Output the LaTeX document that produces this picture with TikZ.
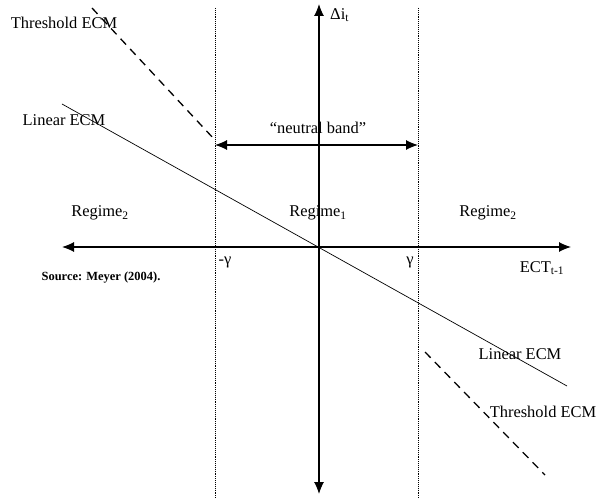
\documentclass[tikz,border=0pt]{standalone}
\usepackage{fontspec}
\setmainfont{Liberation Serif}
\usetikzlibrary{arrows.meta}
\tikzset{
  axis/.style={line width=1.1bp,{Latex[length=12bp,width=10bp]}-{Latex[length=12bp,width=10bp]}},
  band/.style={densely dotted,line width=0.9bp},
  ecm/.style={line width=0.7bp},
  tecm/.style={line width=1.3bp,dash pattern=on 8bp off 6bp},
  lbl/.style={font=\fontsize{16.5}{19}\selectfont,inner sep=1bp}
}
\begin{document}
\begin{tikzpicture}[x=1bp,y=-1bp]
\useasboundingbox (0,0) rectangle (605,499);
\coordinate (o) at (319,247);
\coordinate (xl) at (62,247);
\coordinate (xr) at (571,247);
\coordinate (yt) at (319,4);
\coordinate (yb) at (319,494);
\coordinate (gl) at (215,247);
\coordinate (gr) at (418,247);
% band limits
\foreach \x/\n in {215/l,418/r} {
  \coordinate (top\n) at (\x,8);
  \coordinate (bot\n) at (\x,499);
  \draw[band] (top\n) -- (bot\n);
}
% axes
\draw[axis] (xl) -- (xr);
\draw[axis,{Latex[length=12bp,width=10bp]}-] (yt) -- (o);
\draw[axis,-{Latex[length=12bp,width=10bp]}] (o) -- (yb);
\coordinate (nl) at (215,145);
\coordinate (nr) at (418,145);
\draw[axis] (nl) -- (nr);
% error correction lines
\coordinate (la) at (62,104);
\coordinate (lb) at (567,386);
\draw[ecm] (la) -- (lb);
\coordinate (ta) at (92,8);
\coordinate (tb) at (214,139);
\coordinate (tc) at (425,352);
\coordinate (td) at (545,475);
\draw[tecm] (ta) -- (tb) (tc) -- (td) (gl) -- (o) -- (gr);
% labels
\node[lbl,anchor=west] (dy) at (329,15) {Δi\textsubscript{t}};
\node[lbl] (nb) at (318,128) {“neutral band”};
\node[lbl] (thr1) at (64,23) {Threshold ECM};
\node[lbl] (lin1) at (64,120) {Linear ECM};
\node[lbl] (reg2l) at (100,213) {Regime\textsubscript{2}};
\node[lbl] (reg1) at (318,213) {Regime\textsubscript{1}};
\node[lbl] (reg2r) at (488,213) {Regime\textsubscript{2}};
\node[lbl] (mgam) at (225,262) {-γ};
\node[lbl] (gam) at (410,262) {γ};
\node[lbl] (ect) at (542,268) {ECT\textsubscript{t-1}};
\node[font=\fontsize{12.5}{15}\selectfont\bfseries] (src) at (101,278) {Source: Meyer (2004).};
\node[lbl] (lin2) at (520,354) {Linear ECM};
\node[lbl] (thr2) at (543,412) {Threshold ECM};
\end{tikzpicture}
\end{document}
